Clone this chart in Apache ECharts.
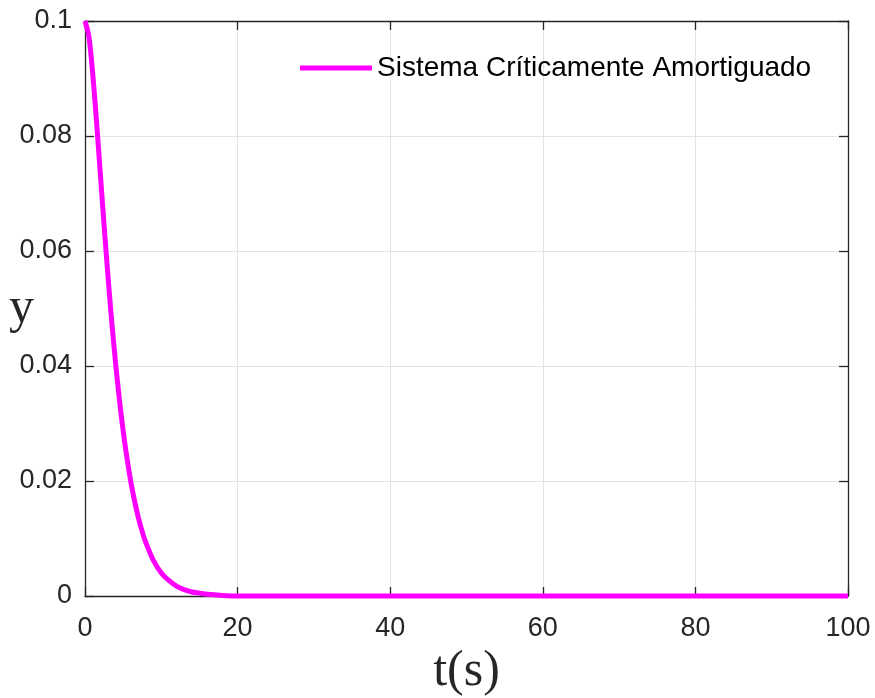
<!DOCTYPE html>
<html>
<head>
<meta charset="utf-8">
<script src="https://cdn.jsdelivr.net/npm/echarts@6/dist/echarts.min.js"></script>
<style>
  html, body { margin: 0; padding: 0; background: #ffffff; }
  #chart { width: 875px; height: 698px; }
</style>
</head>
<body>
<div id="chart"></div>
<script>
// Time samples (s) and response of the critically damped system
const tValues = [0, 0.5, 1, 1.5, 2, 2.5, 3, 3.5, 4, 4.5, 5, 5.5, 6, 6.5, 7, 7.5, 8, 9, 10,
  11, 12, 13, 14, 15, 16, 18, 20, 25, 30, 40, 50, 60, 70, 80, 90, 100];
const yValues = [0.1, 0.0974, 0.0910, 0.0827, 0.0736, 0.0645, 0.0558, 0.0478, 0.0406, 0.0343,
  0.0287, 0.0240, 0.0199, 0.0165, 0.0136, 0.0112, 0.0092, 0.0061, 0.0040,
  0.0027, 0.0017, 0.0011, 0.0007, 0.0005, 0.0003, 0.0001, 0, 0, 0, 0, 0, 0, 0, 0, 0, 0];
const xTicks = [0, 20, 40, 60, 80, 100];
const yTicks = [0, 0.02, 0.04, 0.06, 0.08, 0.1];
const seriesName = 'Sistema Críticamente Amortiguado';
const xTitle = 't(s)';
const yTitle = 'y';

const points = tValues.map((t, i) => [t, yValues[i]]);
const axisColor = '#262626';
const labelFont = { fontFamily: 'Liberation Sans', fontSize: 27, color: axisColor };

const chart = echarts.init(document.getElementById('chart'), null, { renderer: 'canvas' });

const baseX = {
  type: 'value', min: xTicks[0], max: xTicks[xTicks.length - 1], interval: 20,
  axisLine: { show: true, onZero: false, lineStyle: { color: axisColor, width: 1.3 } },
  axisTick: { show: true, inside: true, length: 9, lineStyle: { color: axisColor, width: 1.3 } }
};
const baseY = {
  type: 'value', min: yTicks[0], max: yTicks[yTicks.length - 1], interval: 0.02,
  axisLine: { show: true, onZero: false, lineStyle: { color: axisColor, width: 1.3 } },
  axisTick: { show: true, inside: true, length: 9, lineStyle: { color: axisColor, width: 1.3 } }
};

chart.setOption({
  animation: false,
  backgroundColor: '#ffffff',
  grid: { left: 85, right: 27, top: 21, bottom: 102, containLabel: false, outerBoundsMode: 'none' },
  legend: {
    left: 295, top: 49,
    itemWidth: 72, itemHeight: 5,
    icon: 'rect',
    textStyle: { fontFamily: 'Liberation Sans', fontSize: 28, color: '#000000' },
    data: [seriesName]
  },
  // horizontal y-axis title on the left, set like the x-axis title
  graphic: [{
    type: 'text',
    left: 9,
    top: 284,
    style: {
      text: yTitle,
      font: '50px "Liberation Serif"',
      fill: axisColor
    }
  }],
  xAxis: [
    Object.assign({}, baseX, {
      position: 'bottom',
      name: xTitle, nameLocation: 'middle', nameGap: 51,
      nameTextStyle: { fontFamily: 'Liberation Serif', fontSize: 50, color: axisColor },
      axisLabel: Object.assign({ margin: 19 }, labelFont),
      splitLine: { show: true, lineStyle: { color: '#e3e3e3', width: 1 } }
    }),
    Object.assign({}, baseX, {
      position: 'top',
      axisLabel: { show: false },
      splitLine: { show: false }
    })
  ],
  yAxis: [
    Object.assign({}, baseY, {
      position: 'left',
      axisLabel: Object.assign({ margin: 13, padding: [7, 0, 0, 0] }, labelFont),
      splitLine: { show: true, lineStyle: { color: '#e3e3e3', width: 1 } }
    }),
    Object.assign({}, baseY, {
      position: 'right',
      axisLabel: { show: false },
      splitLine: { show: false }
    })
  ],
  series: [{
    name: seriesName,
    type: 'line',
    xAxisIndex: 0, yAxisIndex: 0,
    data: points,
    smooth: 0.3,
    showSymbol: false,
    clip: false,
    lineStyle: { color: '#ff00ff', width: 5 },
    itemStyle: { color: '#ff00ff' }
  }]
});
</script>
</body>
</html>
